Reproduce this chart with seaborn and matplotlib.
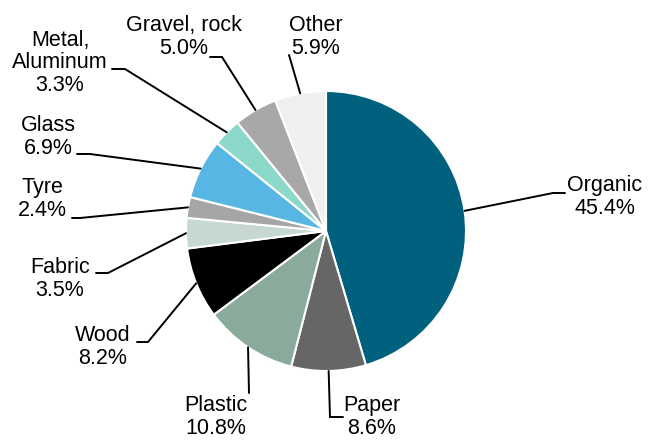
import numpy as np
import matplotlib
matplotlib.use("Agg")
import matplotlib.pyplot as plt
import seaborn as sns

categories = ["Organic", "Paper", "Plastic", "Wood", "Fabric", "Tyre", "Glass",
              "Metal,\nAluminum", "Gravel, rock", "Other"]
values = [45.4, 8.6, 10.8, 8.2, 3.5, 2.4, 6.9, 3.3, 5.0, 5.9]
colors = ["#00617F", "#666666", "#8AAB9B", "#000000", "#C6D8D0", "#A6A6A6",
          "#57B6E3", "#8CD8CB", "#A8A8A8", "#F0F0F0"]

sns.set_theme(style="white")
plt.rcParams['font.family'] = ['Liberation Sans', 'DejaVu Sans']

W, H = 657, 441
fig = plt.figure(figsize=(W / 100, H / 100), dpi=100)
ax = fig.add_axes([0, 0, 1, 1])

cx, cy, R = 326, H - 231, 140
wedges, _ = ax.pie(values, colors=colors, startangle=90, counterclock=False,
                   center=(cx, cy), radius=R, frame=True,
                   wedgeprops=dict(edgecolor="white", linewidth=1.5))
ax.set_xlim(0, W)
ax.set_ylim(0, H)
ax.set_aspect("equal")
ax.axis("off")

# layout for leader lines: (elbow_x, elbow_y, end_x, text_x, text_y) in pixel coords (y from top)
layout = {
    "Organic": (553, 193, 565, 605, 197),
    "Paper": (330, 417, 343, 372, 417),
    "Plastic": (249, 393, 249, 216, 417),
    "Wood": (148, 342, 137, 103, 347),
    "Fabric": (108, 273, 96, 60, 279),
    "Tyre": (80, 218, 72, 42, 199),
    "Glass": (90, 154, 77, 48, 137),
    "Metal,\nAluminum": (125, 69, 112, 60, 63),
    "Gravel, rock": (222, 57, 210, 184, 37),
    "Other": (289, 55, 289, 316, 37),
}

for w, cat, v in zip(wedges, categories, values):
    ang = np.deg2rad((w.theta1 + w.theta2) / 2)
    sx, sy = cx + R * np.cos(ang), cy + R * np.sin(ang)
    ex, ey, endx, tx, ty = layout[cat]
    ax.plot([sx, ex, endx], [sy, H - ey, H - ey], color="black", lw=1.4,
            solid_joinstyle="miter")
    ax.text(tx, H - ty, f"{cat}\n{v:.1f}%", ha="center", va="center", fontsize=15.5,
            color="black", linespacing=1.12)

fig.savefig("out.png", dpi=100)
